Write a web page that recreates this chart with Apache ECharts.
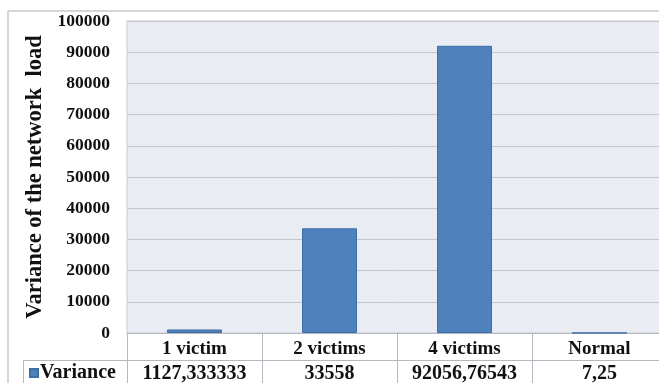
<!DOCTYPE html>
<html><head><meta charset="utf-8">
<script src="https://cdn.jsdelivr.net/npm/echarts@6/dist/echarts.min.js"></script>
<style>html,body{margin:0;padding:0;background:#fff}#c{width:659px;height:383px}</style>
</head><body><div id="c"></div>
<script>
const categories = ['1 victim', '2 victims', '4 victims', 'Normal'];
const variance = [1127.333333, 33558, 92056.76543, 7.25];
const varianceText = ['1127,333333', '33558', '92056,76543', '7,25'];
const yTicks = [0, 10000, 20000, 30000, 40000, 50000, 60000, 70000, 80000, 90000, 100000];

const font = '"Liberation Serif", "Times New Roman", serif';
const chart = echarts.init(document.getElementById('c'));
const gl = 127, gt = 21, gw = 540, gh = 312;
chart.setOption({
  animation: false,
  backgroundColor: '#fff',
  grid: { left: gl, top: gt, width: gw, height: gh, outerBoundsMode: 'none', containLabel: false, show: true, backgroundColor: '#e9ecf3', borderColor: '#c9ccd2', borderWidth: 1 },
  legend: {
    data: ['Variance'], left: 29, top: 363, itemWidth: 8, itemHeight: 8, itemGap: 0, padding: 0,
    icon: 'rect',
    textStyle: { fontFamily: font, fontWeight: 'bold', fontSize: 20, color: '#111', padding: [0,0,0,-3] }
  },
  xAxis: [{
    type: 'category', data: categories, position: 'bottom',
    axisLine: { lineStyle: { color: '#b5b8be' } },
    axisTick: { show: true, length: 50, lineStyle: { color: '#b5b8be' } },
    axisLabel: { interval: 0, fontFamily: font, fontWeight: 'bold', fontSize: 19, color: '#111', margin: 7 }
  }, {
    type: 'category', data: varianceText, position: 'bottom', offset: 27, gridIndex: 0,
    axisLine: { lineStyle: { color: '#b5b8be' } },
    axisTick: { show: false },
    axisLabel: { interval: 0, fontFamily: font, fontWeight: 'bold', fontSize: 20, color: '#111', margin: 4 }
  }],
  yAxis: {
    type: 'value', min: yTicks[0], max: yTicks[yTicks.length - 1], interval: yTicks[1] - yTicks[0],
    name: 'Variance of the network  load', nameLocation: 'middle', nameGap: 80, nameRotate: 90,
    nameTextStyle: { fontFamily: font, fontWeight: 'bold', fontSize: 22.5, color: '#111' },
    axisLine: { show: false }, axisTick: { show: false },
    axisLabel: { fontFamily: font, fontWeight: 'bold', fontSize: 17.5, color: '#111', margin: 17, formatter: v => String(v) },
    splitLine: { lineStyle: { color: '#c3c6cc', width: 1 } }
  },
  graphic: [
    { type: 'line', shape: { x1: 8, y1: 11, x2: 660, y2: 11 }, style: { stroke: '#c8c8c8', lineWidth: 1.5 } },
    { type: 'line', shape: { x1: 8, y1: 11, x2: 8, y2: 383 }, style: { stroke: '#c8c8c8', lineWidth: 1.5 } },
    { type: 'line', shape: { x1: 23, y1: 360.5, x2: 127, y2: 360.5 }, style: { stroke: '#b5b8be', lineWidth: 1 } },
    { type: 'line', shape: { x1: 23.5, y1: 360, x2: 23.5, y2: 383 }, style: { stroke: '#b5b8be', lineWidth: 1 } }
  ],
  series: [{
    name: 'Variance', type: 'bar', data: variance, xAxisIndex: 0, barWidth: 55,
    itemStyle: { color: '#4f81bd', borderColor: '#3f6ea6', borderWidth: 1 }
  }]
});
</script></body></html>
